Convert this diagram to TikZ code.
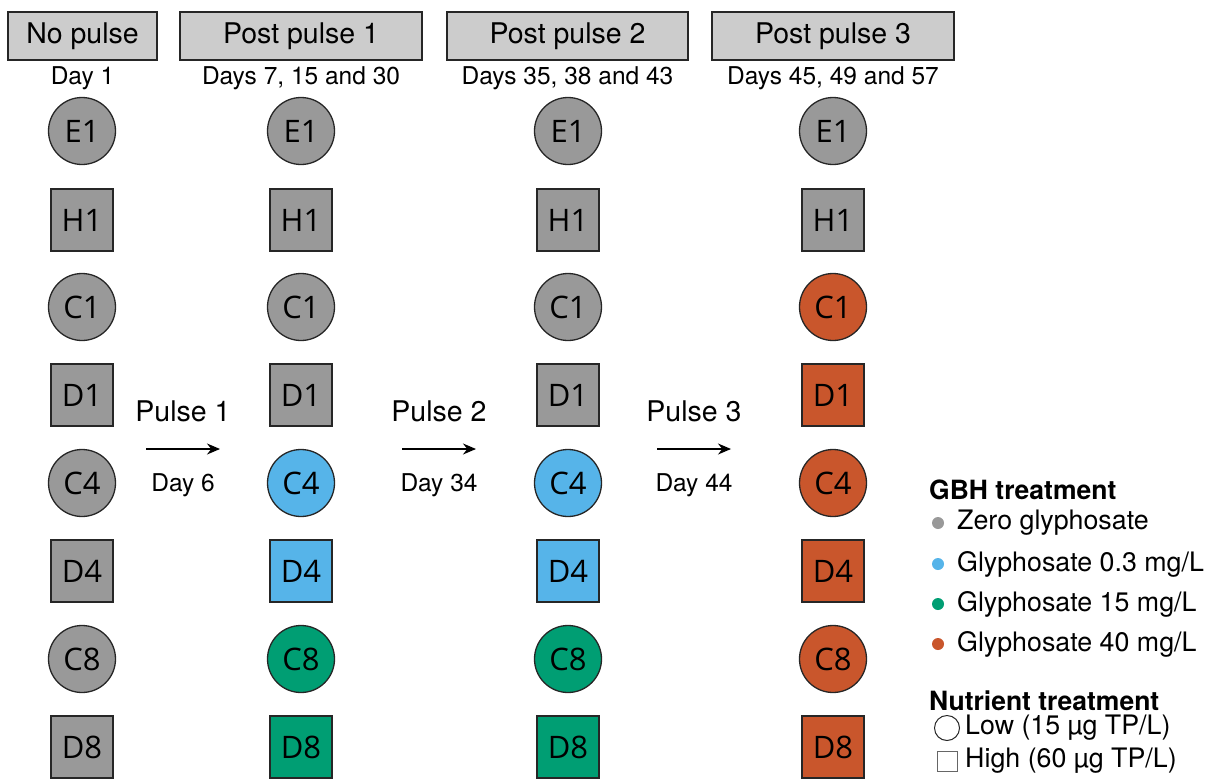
\documentclass[tikz,border=0pt]{standalone}
\usepackage{fontspec}
\setmainfont{TeX Gyre Heros}
\newfontfamily\nodefont{Open Sans}
\usetikzlibrary{arrows.meta}
\definecolor{zero}{HTML}{999999}
\definecolor{low}{HTML}{56B4E9}
\definecolor{mid}{HTML}{009E73}
\definecolor{high}{HTML}{C9562C}
\definecolor{headfill}{HTML}{CCCCCC}
\newcommand{\fs}[1]{\fontsize{#1}{#1}\selectfont}
\begin{document}
\begin{tikzpicture}[x=1pt,y=-1pt,
  head/.style={draw=black!85,line width=1.4pt,fill=headfill,minimum height=48pt,inner sep=0pt,font=\fs{28.5}},
  sub/.style={font=\fs{24.5},inner sep=0pt},
  circ/.style={circle,draw=black!85,line width=1.3pt,minimum size=67pt,inner sep=0pt,font=\nodefont\fs{31}},
  sq/.style={rectangle,draw=black!85,line width=1.3pt,minimum size=62pt,inner sep=0pt,font=\nodefont\fs{31}},
  plabel/.style={font=\fs{28.5},inner sep=0pt},
  dlabel/.style={font=\fs{24.5},inner sep=0pt},
  parrow/.style={line width=1.3pt,-{Stealth[length=13pt,width=11pt]}},
  legtitle/.style={font=\bfseries\fs{26.5},anchor=west,inner sep=0pt},
  legtext/.style={font=\fs{26.8},anchor=west,inner sep=0pt},
  dot/.style={circle,minimum size=12pt,inner sep=0pt},
]
\useasboundingbox (0,0) rectangle (1215,782);

% column headers
\node[head,minimum width=149pt] (h0) at (82.5,36) {No pulse};
\node[head,minimum width=242pt] (h1) at (301,36) {Post pulse 1};
\node[head,minimum width=241pt] (h2) at (567.5,36) {Post pulse 2};
\node[head,minimum width=242pt] (h3) at (833,36) {Post pulse 3};
\node[sub] (d0) at (82.5,78) {Day 1};
\node[sub] (d1) at (301,78) {Days 7, 15 and 30};
\node[sub] (d2) at (567.5,78) {Days 35, 38 and 43};
\node[sub] (d3) at (833,78) {Days 45, 49 and 57};

% mesocosm columns: name, shape, colour in each sampling period
\foreach \c/\x in {0/82, 1/301, 2/568, 3/833}{
  \foreach \lab/\shp/\y/\ca/\cb/\cc/\cd in {
      E1/circ/131/zero/zero/zero/zero,
      H1/sq/220/zero/zero/zero/zero,
      C1/circ/307/zero/zero/zero/high,
      D1/sq/395/zero/zero/zero/high,
      C4/circ/483/zero/low/low/high,
      D4/sq/571/zero/low/low/high,
      C8/circ/659/zero/mid/mid/high,
      D8/sq/747/zero/mid/mid/high}{
    \ifcase\c \def\col{\ca}\or \def\col{\cb}\or \def\col{\cc}\or \def\col{\cd}\fi
    \node[\shp,fill=\col] (\lab-\c) at (\x,\y) {\lab};
  }
}

% pulses between sampling periods
\foreach \i/\x/\d in {1/183/6, 2/439/34, 3/694/44}{
  \node[plabel] (p\i) at (\x,411) {Pulse \i};
  \coordinate (a\i s) at (\x-37,449);
  \coordinate (a\i e) at (\x+37,449);
  \draw[parrow] (a\i s) -- (a\i e);
  \node[dlabel] (pd\i) at (\x,485) {Day \d};
}

% legend
\node[legtitle] (lg1) at (929,490) {GBH treatment};
\node[dot,fill=zero] (k1) at (938,523) {};
\node[legtext] (t1) at (957,523) {Zero glyphosate};
\node[dot,fill=low] (k2) at (938,564) {};
\node[legtext] (t2) at (957,564) {Glyphosate 0.3 mg/L};
\node[dot,fill=mid] (k3) at (938,604) {};
\node[legtext] (t3) at (957,604) {Glyphosate 15 mg/L};
\node[dot,fill=high] (k4) at (938,644) {};
\node[legtext] (t4) at (957,644) {Glyphosate 40 mg/L};

\node[legtitle] (lg2) at (929,701) {Nutrient treatment};
\node[circle,draw=black!85,line width=1pt,minimum size=25pt,inner sep=0pt] (n1) at (947,728) {};
\node[legtext] (u1) at (965,728) {Low (15 µg TP/L)};
\node[rectangle,draw=black!60,line width=1pt,minimum size=20pt,inner sep=0pt] (n2) at (947,761) {};
\node[legtext] (u2) at (965,761) {High (60 µg TP/L)};
\end{tikzpicture}
\end{document}
